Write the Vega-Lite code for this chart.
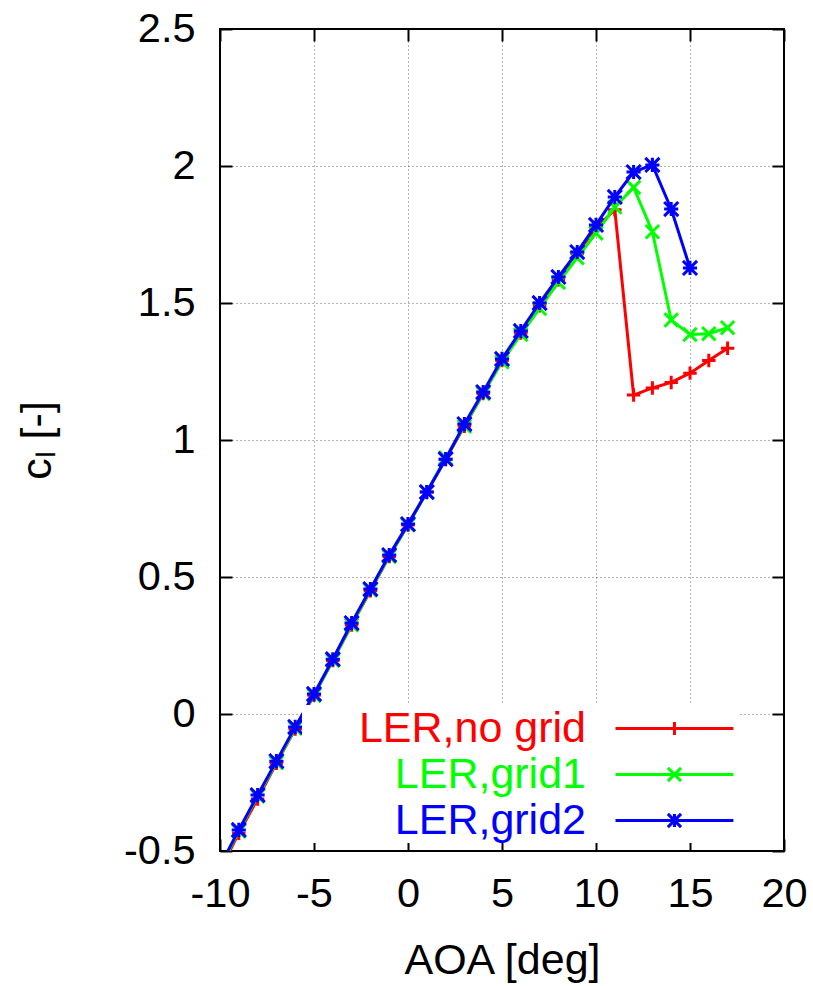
{
  "$schema": "https://vega.github.io/schema/vega-lite/v6.json",
  "width": 564,
  "height": 822,
  "autosize": "none",
  "padding": {"left": 220, "top": 29, "right": 29, "bottom": 135},
  "background": "white",
  "config": {
    "view": {"stroke": "black", "strokeWidth": 2},
    "font": "Liberation Sans",
    "axis": {
      "domain": false,
      "gridColor": "#000",
      "gridDash": [1, 3],
      "gridWidth": 1,
      "gridOpacity": 0.6,
      "tickColor": "black",
      "tickWidth": 2,
      "labelFlush": false,
      "labelFont": "Liberation Sans",
      "labelFontSize": 41.5,
      "labelColor": "black",
      "titleFont": "Liberation Sans",
      "titleFontSize": 43,
      "titleFontWeight": "normal",
      "titleColor": "black"
    }
  },
  "data": {
    "values": [
      {"aoa": -10, "cl": -0.57, "case": "LER,no grid"},
      {"aoa": -9, "cl": -0.435, "case": "LER,no grid"},
      {"aoa": -8, "cl": -0.31, "case": "LER,no grid"},
      {"aoa": -7, "cl": -0.18, "case": "LER,no grid"},
      {"aoa": -6, "cl": -0.055, "case": "LER,no grid"},
      {"aoa": -5, "cl": 0.068, "case": "LER,no grid"},
      {"aoa": -4, "cl": 0.195, "case": "LER,no grid"},
      {"aoa": -3, "cl": 0.325, "case": "LER,no grid"},
      {"aoa": -2, "cl": 0.45, "case": "LER,no grid"},
      {"aoa": -1, "cl": 0.575, "case": "LER,no grid"},
      {"aoa": 0, "cl": 0.69, "case": "LER,no grid"},
      {"aoa": 1, "cl": 0.81, "case": "LER,no grid"},
      {"aoa": 2, "cl": 0.93, "case": "LER,no grid"},
      {"aoa": 3, "cl": 1.05, "case": "LER,no grid"},
      {"aoa": 4, "cl": 1.17, "case": "LER,no grid"},
      {"aoa": 5, "cl": 1.29, "case": "LER,no grid"},
      {"aoa": 6, "cl": 1.39, "case": "LER,no grid"},
      {"aoa": 7, "cl": 1.49, "case": "LER,no grid"},
      {"aoa": 8, "cl": 1.585, "case": "LER,no grid"},
      {"aoa": 9, "cl": 1.68, "case": "LER,no grid"},
      {"aoa": 10, "cl": 1.775, "case": "LER,no grid"},
      {"aoa": 11, "cl": 1.84, "case": "LER,no grid"},
      {"aoa": 12, "cl": 1.164, "case": "LER,no grid"},
      {"aoa": 13, "cl": 1.19, "case": "LER,no grid"},
      {"aoa": 14, "cl": 1.21, "case": "LER,no grid"},
      {"aoa": 15, "cl": 1.244, "case": "LER,no grid"},
      {"aoa": 16, "cl": 1.29, "case": "LER,no grid"},
      {"aoa": 17, "cl": 1.335, "case": "LER,no grid"},
      {"aoa": -10, "cl": -0.56, "case": "LER,grid1"},
      {"aoa": -9, "cl": -0.428, "case": "LER,grid1"},
      {"aoa": -8, "cl": -0.3, "case": "LER,grid1"},
      {"aoa": -7, "cl": -0.178, "case": "LER,grid1"},
      {"aoa": -6, "cl": -0.052, "case": "LER,grid1"},
      {"aoa": -5, "cl": 0.068, "case": "LER,grid1"},
      {"aoa": -4, "cl": 0.195, "case": "LER,grid1"},
      {"aoa": -3, "cl": 0.325, "case": "LER,grid1"},
      {"aoa": -2, "cl": 0.452, "case": "LER,grid1"},
      {"aoa": -1, "cl": 0.575, "case": "LER,grid1"},
      {"aoa": 0, "cl": 0.69, "case": "LER,grid1"},
      {"aoa": 1, "cl": 0.81, "case": "LER,grid1"},
      {"aoa": 2, "cl": 0.935, "case": "LER,grid1"},
      {"aoa": 3, "cl": 1.05, "case": "LER,grid1"},
      {"aoa": 4, "cl": 1.17, "case": "LER,grid1"},
      {"aoa": 5, "cl": 1.285, "case": "LER,grid1"},
      {"aoa": 6, "cl": 1.385, "case": "LER,grid1"},
      {"aoa": 7, "cl": 1.48, "case": "LER,grid1"},
      {"aoa": 8, "cl": 1.575, "case": "LER,grid1"},
      {"aoa": 9, "cl": 1.665, "case": "LER,grid1"},
      {"aoa": 10, "cl": 1.755, "case": "LER,grid1"},
      {"aoa": 11, "cl": 1.85, "case": "LER,grid1"},
      {"aoa": 12, "cl": 1.922, "case": "LER,grid1"},
      {"aoa": 13, "cl": 1.76, "case": "LER,grid1"},
      {"aoa": 14, "cl": 1.438, "case": "LER,grid1"},
      {"aoa": 15, "cl": 1.385, "case": "LER,grid1"},
      {"aoa": 16, "cl": 1.388, "case": "LER,grid1"},
      {"aoa": 17, "cl": 1.41, "case": "LER,grid1"},
      {"aoa": -10, "cl": -0.555, "case": "LER,grid2"},
      {"aoa": -9, "cl": -0.423, "case": "LER,grid2"},
      {"aoa": -8, "cl": -0.296, "case": "LER,grid2"},
      {"aoa": -7, "cl": -0.172, "case": "LER,grid2"},
      {"aoa": -6, "cl": -0.047, "case": "LER,grid2"},
      {"aoa": -5, "cl": 0.073, "case": "LER,grid2"},
      {"aoa": -4, "cl": 0.2, "case": "LER,grid2"},
      {"aoa": -3, "cl": 0.332, "case": "LER,grid2"},
      {"aoa": -2, "cl": 0.456, "case": "LER,grid2"},
      {"aoa": -1, "cl": 0.58, "case": "LER,grid2"},
      {"aoa": 0, "cl": 0.693, "case": "LER,grid2"},
      {"aoa": 1, "cl": 0.81, "case": "LER,grid2"},
      {"aoa": 2, "cl": 0.93, "case": "LER,grid2"},
      {"aoa": 3, "cl": 1.058, "case": "LER,grid2"},
      {"aoa": 4, "cl": 1.175, "case": "LER,grid2"},
      {"aoa": 5, "cl": 1.296, "case": "LER,grid2"},
      {"aoa": 6, "cl": 1.398, "case": "LER,grid2"},
      {"aoa": 7, "cl": 1.5, "case": "LER,grid2"},
      {"aoa": 8, "cl": 1.595, "case": "LER,grid2"},
      {"aoa": 9, "cl": 1.686, "case": "LER,grid2"},
      {"aoa": 10, "cl": 1.785, "case": "LER,grid2"},
      {"aoa": 11, "cl": 1.887, "case": "LER,grid2"},
      {"aoa": 12, "cl": 1.978, "case": "LER,grid2"},
      {"aoa": 13, "cl": 2.004, "case": "LER,grid2"},
      {"aoa": 14, "cl": 1.843, "case": "LER,grid2"},
      {"aoa": 15, "cl": 1.628, "case": "LER,grid2"}
    ]
  },
  "layer": [
    {
      "transform": [{"filter": "datum.case === 'LER,no grid'"}],
      "mark": {"type": "line", "strokeWidth": 3, "clip": true},
      "encoding": {
        "x": {
          "field": "aoa", "type": "quantitative",
          "scale": {"domain": [-10, 20], "nice": false, "zero": false},
          "axis": {
            "title": "AOA [deg]",
            "values": [-10, -5, 0, 5, 10, 15, 20],
            "labelExpr": "'' + datum.value",
            "tickSize": -12,
            "labelPadding": 34,
            "grid": true,
            "titleY": 122,
            "titleBaseline": "alphabetic"
          }
        },
        "y": {
          "field": "cl", "type": "quantitative",
          "scale": {"domain": [-0.5, 2.5], "nice": false, "zero": false},
          "axis": {
            "title": "cₗ [-]",
            "values": [-0.5, 0, 0.5, 1, 1.5, 2, 2.5],
            "labelExpr": "'' + datum.value",
            "tickSize": -12,
            "labelPadding": 37,
            "grid": true,
            "titleAngle": -90,
            "titleX": -170,
            "titleY": 411,
            "titleAlign": "center",
            "titleBaseline": "alphabetic"
          }
        },
        "color": {
          "field": "case", "type": "nominal",
          "scale": {
            "domain": ["LER,no grid", "LER,grid1", "LER,grid2"],
            "range": ["#ff0000", "#00ff00", "#0000ff"]
          },
          "legend": {
            "orient": "none",
            "legendX": 82,
            "legendY": 676,
            "title": null,
            "direction": "vertical",
            "padding": 0,
            "fillColor": "white",
            "labelFont": "Liberation Sans",
            "labelFontSize": 43,
            "labelAlign": "right",
            "labelBaseline": "middle",
            "labelOffset": -75,
            "symbolOffset": 312,
            "labelLimit": 500,
            "rowPadding": 0,
            "symbolSize": 1936,
            "symbolStrokeWidth": 3,
            "encode": {
              "symbols": {
                "update": {
                  "shape": {"signal": "datum.value === 'LER,no grid' ? 'M-1,0H4.36M1.68,-0.3V0.3' : datum.value === 'LER,grid1' ? 'M-1,0H4.36M1.38,-0.3L1.98,0.3M1.38,0.3L1.98,-0.3' : 'M-1,0H4.36M1.68,-0.3V0.3M1.38,-0.3L1.98,0.3M1.38,0.3L1.98,-0.3'"},
                  "fill": {"value": "transparent"},
                  "strokeWidth": {"value": 3}
                }
              },
              "labels": {
                "update": {
                  "fill": {"signal": "datum.value === 'LER,no grid' ? '#ff0000' : datum.value === 'LER,grid1' ? '#00ff00' : '#0000ff'"}
                }
              }
            }
          }
        }
      }
    },
    {
      "transform": [{"filter": "datum.case === 'LER,no grid'"}],
      "mark": {"type": "point", "shape": "M-1,0H1M0,-1V1", "filled": false, "strokeWidth": 3, "opacity": 1, "size": 180, "clip": true},
      "encoding": {
        "x": {
          "field": "aoa", "type": "quantitative",
          "axis": {"orient": "top", "values": [-10, -5, 0, 5, 10, 15, 20], "labels": false, "title": null, "tickSize": -12, "grid": false}
        },
        "y": {
          "field": "cl", "type": "quantitative",
          "axis": {"orient": "right", "values": [-0.5, 0, 0.5, 1, 1.5, 2, 2.5], "labels": false, "title": null, "tickSize": -12, "grid": false}
        },
        "color": {"field": "case", "type": "nominal"}
      }
    },
    {
      "transform": [{"filter": "datum.case === 'LER,grid1'"}],
      "mark": {"type": "line", "strokeWidth": 3, "clip": true},
      "encoding": {
        "x": {"field": "aoa", "type": "quantitative", "axis": null},
        "y": {"field": "cl", "type": "quantitative", "axis": null},
        "color": {"field": "case", "type": "nominal"}
      }
    },
    {
      "transform": [{"filter": "datum.case === 'LER,grid1'"}],
      "mark": {"type": "point", "shape": "M-1,-1L1,1M-1,1L1,-1", "filled": false, "strokeWidth": 3, "opacity": 1, "size": 180, "clip": true},
      "encoding": {
        "x": {"field": "aoa", "type": "quantitative", "axis": null},
        "y": {"field": "cl", "type": "quantitative", "axis": null},
        "color": {"field": "case", "type": "nominal"}
      }
    },
    {
      "transform": [{"filter": "datum.case === 'LER,grid2'"}],
      "mark": {"type": "line", "strokeWidth": 3, "clip": true},
      "encoding": {
        "x": {"field": "aoa", "type": "quantitative", "axis": null},
        "y": {"field": "cl", "type": "quantitative", "axis": null},
        "color": {"field": "case", "type": "nominal"}
      }
    },
    {
      "transform": [{"filter": "datum.case === 'LER,grid2'"}],
      "mark": {"type": "point", "shape": "M-1,0H1M0,-1V1M-1,-1L1,1M-1,1L1,-1", "filled": false, "strokeWidth": 3, "opacity": 1, "size": 200, "clip": true},
      "encoding": {
        "x": {"field": "aoa", "type": "quantitative", "axis": null},
        "y": {"field": "cl", "type": "quantitative", "axis": null},
        "color": {"field": "case", "type": "nominal"}
      }
    }
  ],
  "resolve": {"axis": {"x": "independent", "y": "independent"}}
}
